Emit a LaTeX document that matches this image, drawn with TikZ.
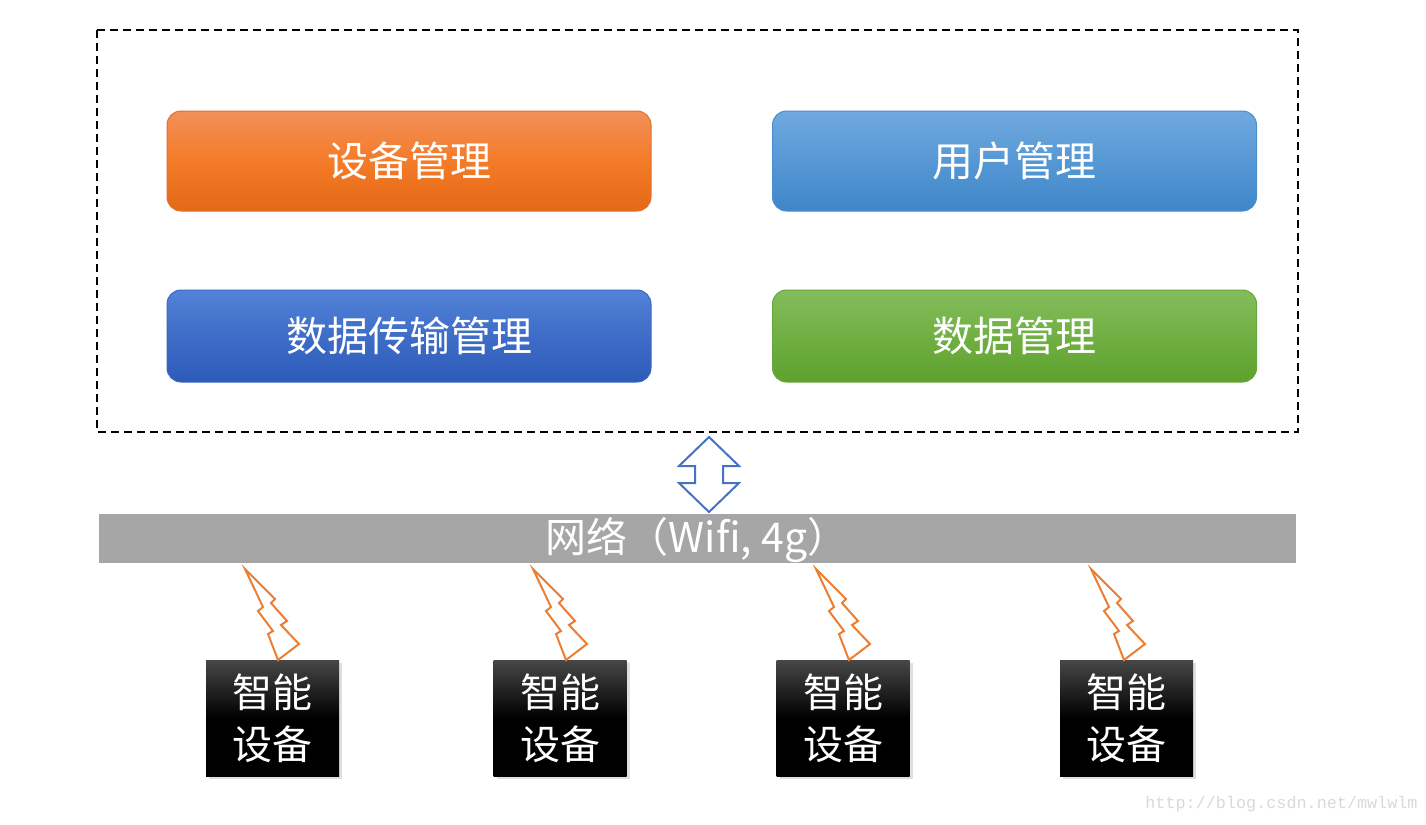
\documentclass[tikz,border=0pt]{standalone}
\usepackage{fontspec}
\setmainfont{Noto Sans CJK SC}
\setmonofont{Liberation Mono}
\usetikzlibrary{shadows}
\definecolor{orT}{HTML}{F2905A}
\definecolor{orM}{HTML}{F47B28}
\definecolor{orB}{HTML}{E46917}
\definecolor{orD}{HTML}{E07030}
\definecolor{lbT}{HTML}{70A9DE}
\definecolor{lbM}{HTML}{5698D5}
\definecolor{lbB}{HTML}{3F86C8}
\definecolor{lbD}{HTML}{4A8ED0}
\definecolor{dbT}{HTML}{5382D8}
\definecolor{dbM}{HTML}{3E6DC8}
\definecolor{dbB}{HTML}{2D5BB8}
\definecolor{dbD}{HTML}{3A68C4}
\definecolor{grT}{HTML}{84BD5C}
\definecolor{grM}{HTML}{70B043}
\definecolor{grB}{HTML}{5EA12D}
\definecolor{grD}{HTML}{68A83A}
\definecolor{barG}{HTML}{A6A6A6}
\definecolor{arrB}{HTML}{4472C4}
\definecolor{boltO}{HTML}{ED7D31}
\definecolor{wm}{HTML}{D9D9D9}
\tikzset{
  modbox/.style={rounded corners=7pt, minimum width=242pt, text=white,
    font=\fontsize{20.5pt}{24pt}\selectfont, inner sep=0pt, line width=0.5pt},
  devbox/.style={minimum width=66.5pt, minimum height=58pt, inner sep=0pt,
    top color=black!72, bottom color=black, middle color=black, text=white,
    align=center, font=\fontsize{20pt}{26pt}\selectfont,
    drop shadow={shadow xshift=1.5pt, shadow yshift=-1.5pt, opacity=0.25, fill=black!50}},
  boltline/.style={draw=boltO, line width=1pt, line join=miter, fill=white},
  arrowline/.style={draw=arrB, line width=1pt, fill=white, line join=miter}
}
\begin{document}
\begin{tikzpicture}[x=0.5pt,y=-0.5pt]
\useasboundingbox (0,0) rectangle (1426,825);
\fill[white] (0,0) rectangle (1426,825);
% frame
\draw[line width=1pt, dash pattern=on 4pt off 2.5pt] (97,30) rectangle (1298,432);
% modules
\node[modbox, minimum height=50pt, draw=orD, top color=orT, bottom color=orB, middle color=orM] (dev) at (409,161) {设备管理};
\node[modbox, minimum height=50pt, draw=lbD, top color=lbT, bottom color=lbB, middle color=lbM] (usr) at (1014.5,161) {用户管理};
\node[modbox, minimum height=46pt, draw=dbD, top color=dbT, bottom color=dbB, middle color=dbM] (trans) at (409,336) {数据传输管理};
\node[modbox, minimum height=46pt, draw=grD, top color=grT, bottom color=grB, middle color=grM] (data) at (1014.5,336) {数据管理};
% network bar
\node[fill=barG, minimum width=598.5pt, minimum height=24.5pt, inner sep=0pt] (net) at (697.5,538.5) {};
\node[text=white, font=\fontsize{20.5pt}{24pt}\selectfont, inner sep=0pt] (netlabel) at (697,540) {网络（Wifi, 4g）};
% double arrow
\draw[arrowline] (709,437) -- (739,466) -- (723,466) -- (723,483) -- (739,483) -- (709,512)
  -- (679,483) -- (695,483) -- (695,466) -- (679,466) -- cycle;
% devices
\node[devbox] (d1) at (272.5,718) {智能\\设备};
\node[devbox] (d2) at (560,718) {智能\\设备};
\node[devbox] (d3) at (843,718) {智能\\设备};
\node[devbox] (d4) at (1126.5,718) {智能\\设备};
% bolts
\foreach \tx in {245,533,816,1091}{
  \draw[boltline] (\tx,569) -- ++(30,30) -- ++(-4,4) -- ++(16,18) -- ++(-6,4) -- ++(18,19)
    -- ++(-21,16) -- ++(-10,-26) -- ++(5,-3) -- ++(-15,-20) -- ++(5,-4) -- cycle;
}
% watermark
\node[anchor=west, text=wm, font=\ttfamily\fontsize{8.4pt}{10pt}\selectfont, inner sep=0pt] (wmark) at (1145,804) {http://blog.csdn.net/mwlwlm};
\end{tikzpicture}
\end{document}
